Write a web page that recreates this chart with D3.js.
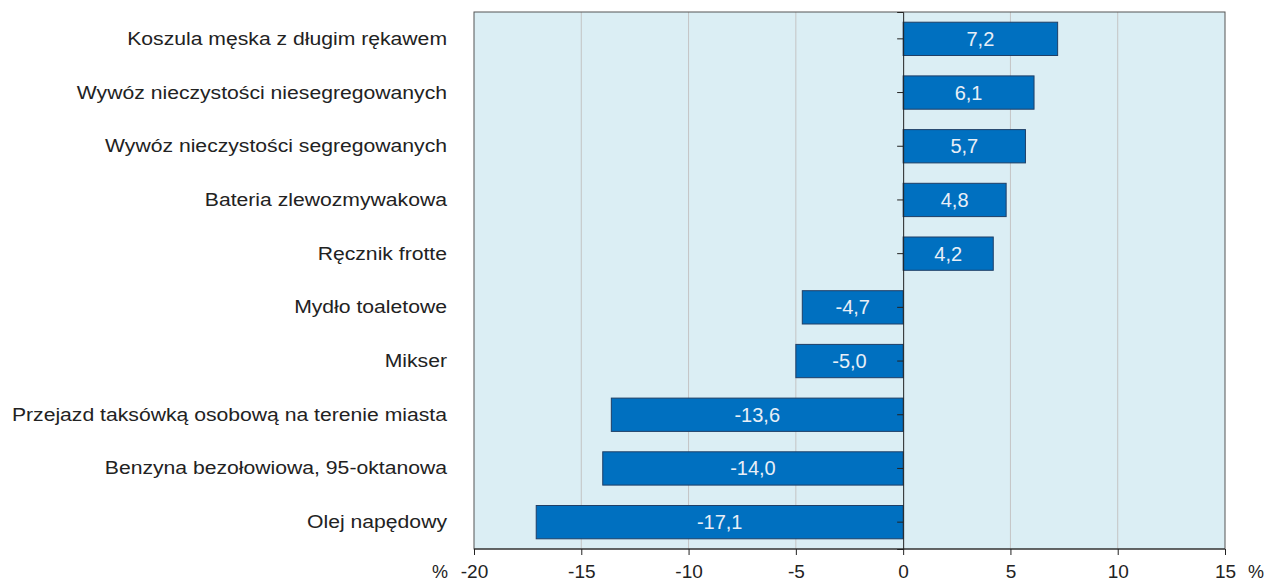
<!DOCTYPE html>
<html>
<head>
<meta charset="utf-8">
<script src="https://cdn.jsdelivr.net/npm/d3@7"></script>
<style>
  body { margin: 0; background: #fff; }
  svg text { font-family: "Liberation Sans", Arial, sans-serif; }
</style>
</head>
<body>
<svg id="chart" width="1266" height="582"></svg>
<script>
//* Data
const categories = [
  "Koszula męska z długim rękawem",
  "Wywóz nieczystości niesegregowanych",
  "Wywóz nieczystości segregowanych",
  "Bateria zlewozmywakowa",
  "Ręcznik frotte",
  "Mydło toaletowe",
  "Mikser",
  "Przejazd taksówką osobową na terenie miasta",
  "Benzyna bezołowiowa, 95-oktanowa",
  "Olej napędowy"
]
const values = [7.2, 6.1, 5.7, 4.8, 4.2, -4.7, -5.0, -13.6, -14.0, -17.1]
const xTicks = [-20, -15, -10, -5, 0, 5, 10, 15]

const width = 1266
const height = 582
const margins = { top: 12, right: 41, bottom: 33, left: 474 }

const svg = d3.select("#chart")
const data = categories.map((c, i) => ({ name: c, value: values[i] }))

const x = d3.scaleLinear()
  .domain([-20, 15])
  .range([margins.left, width - margins.right])

const y = d3.scaleBand()
  .domain(categories)
  .range([margins.top, height - margins.bottom])
  .paddingInner(0.38)
  .paddingOuter(0.19)

const fmt = v => d3.format(".1f")(v).replace(".", ",").replace("−", "-")

//* Plot background
svg.append("rect")
  .attr("x", x(-20))
  .attr("y", margins.top)
  .attr("width", x(15) - x(-20))
  .attr("height", height - margins.bottom - margins.top)
  .attr("fill", "#dbeef4")

//* Gridlines
svg.append("g")
  .selectAll("line")
  .data(xTicks.filter(t => t !== 0 && t !== -20 && t !== 15))
  .join("line")
  .attr("x1", d => x(d))
  .attr("x2", d => x(d))
  .attr("y1", margins.top)
  .attr("y2", height - margins.bottom)
  .attr("stroke", "#c4c4c4")
  .attr("stroke-width", 1)

//* Bars
svg.append("g")
  .selectAll("rect")
  .data(data)
  .join("rect")
  .attr("x", d => x(Math.min(0, d.value)))
  .attr("y", d => y(d.name))
  .attr("width", d => Math.abs(x(d.value) - x(0)))
  .attr("height", y.bandwidth())
  .attr("fill", "#0070c0")
  .attr("stroke", "#1f3f66")
  .attr("stroke-width", 1)

//* Bar labels
svg.append("g")
  .selectAll("text")
  .data(data)
  .join("text")
  .attr("x", d => (x(d.value) + x(0)) / 2)
  .attr("y", d => y(d.name) + y.bandwidth() / 2 + 7)
  .attr("text-anchor", "middle")
  .attr("fill", "#e8eff7")
  .attr("font-size", "20px")
  .text(d => fmt(d.value))

//* Frame
svg.append("rect")
  .attr("x", x(-20))
  .attr("y", margins.top)
  .attr("width", x(15) - x(-20))
  .attr("height", height - margins.bottom - margins.top)
  .attr("fill", "none")
  .attr("stroke", "#555")
  .attr("stroke-width", 1)

//* Zero axis with category ticks
const yAxis = svg.append("g")
  .attr("transform", `translate(${x(0)},0)`)
  .call(d3.axisLeft(y).tickSize(6).tickFormat(""))
yAxis.select(".domain").attr("stroke", "#222")
yAxis.selectAll(".tick line").attr("stroke", "#222")

//* Category labels (source font renders wider, so stretch horizontally)
svg.append("g")
  .selectAll("text")
  .data(categories)
  .join("text")
  .attr("transform", d => `translate(447,${y(d) + y.bandwidth() / 2 + 6}) scale(1.21,1)`)
  .attr("text-anchor", "end")
  .attr("fill", "#222")
  .attr("font-size", "17.5px")
  .text(d => d)

//* X axis
const xAxis = svg.append("g")
  .attr("transform", `translate(0,${height - margins.bottom})`)
  .call(d3.axisBottom(x).tickValues(xTicks).tickSize(6).tickPadding(10).tickFormat(d => String(d)))
xAxis.select(".domain").attr("stroke", "#222").attr("d", `M${x(-20)},0H${x(15)}`)
xAxis.selectAll(".tick line").attr("stroke", "#222")
xAxis.selectAll(".tick text")
  .attr("font-size", "19px")
  .attr("fill", "#222")
  .style("font-family", "'Liberation Sans', Arial, sans-serif")

//* Unit labels
svg.append("text")
  .attr("x", 440).attr("y", 578)
  .attr("text-anchor", "middle")
  .attr("font-size", "18px").attr("fill", "#222")
  .text("%")
svg.append("text")
  .attr("x", 1256).attr("y", 578)
  .attr("text-anchor", "middle")
  .attr("font-size", "18px").attr("fill", "#222")
  .text("%")
</script>
</body>
</html>
